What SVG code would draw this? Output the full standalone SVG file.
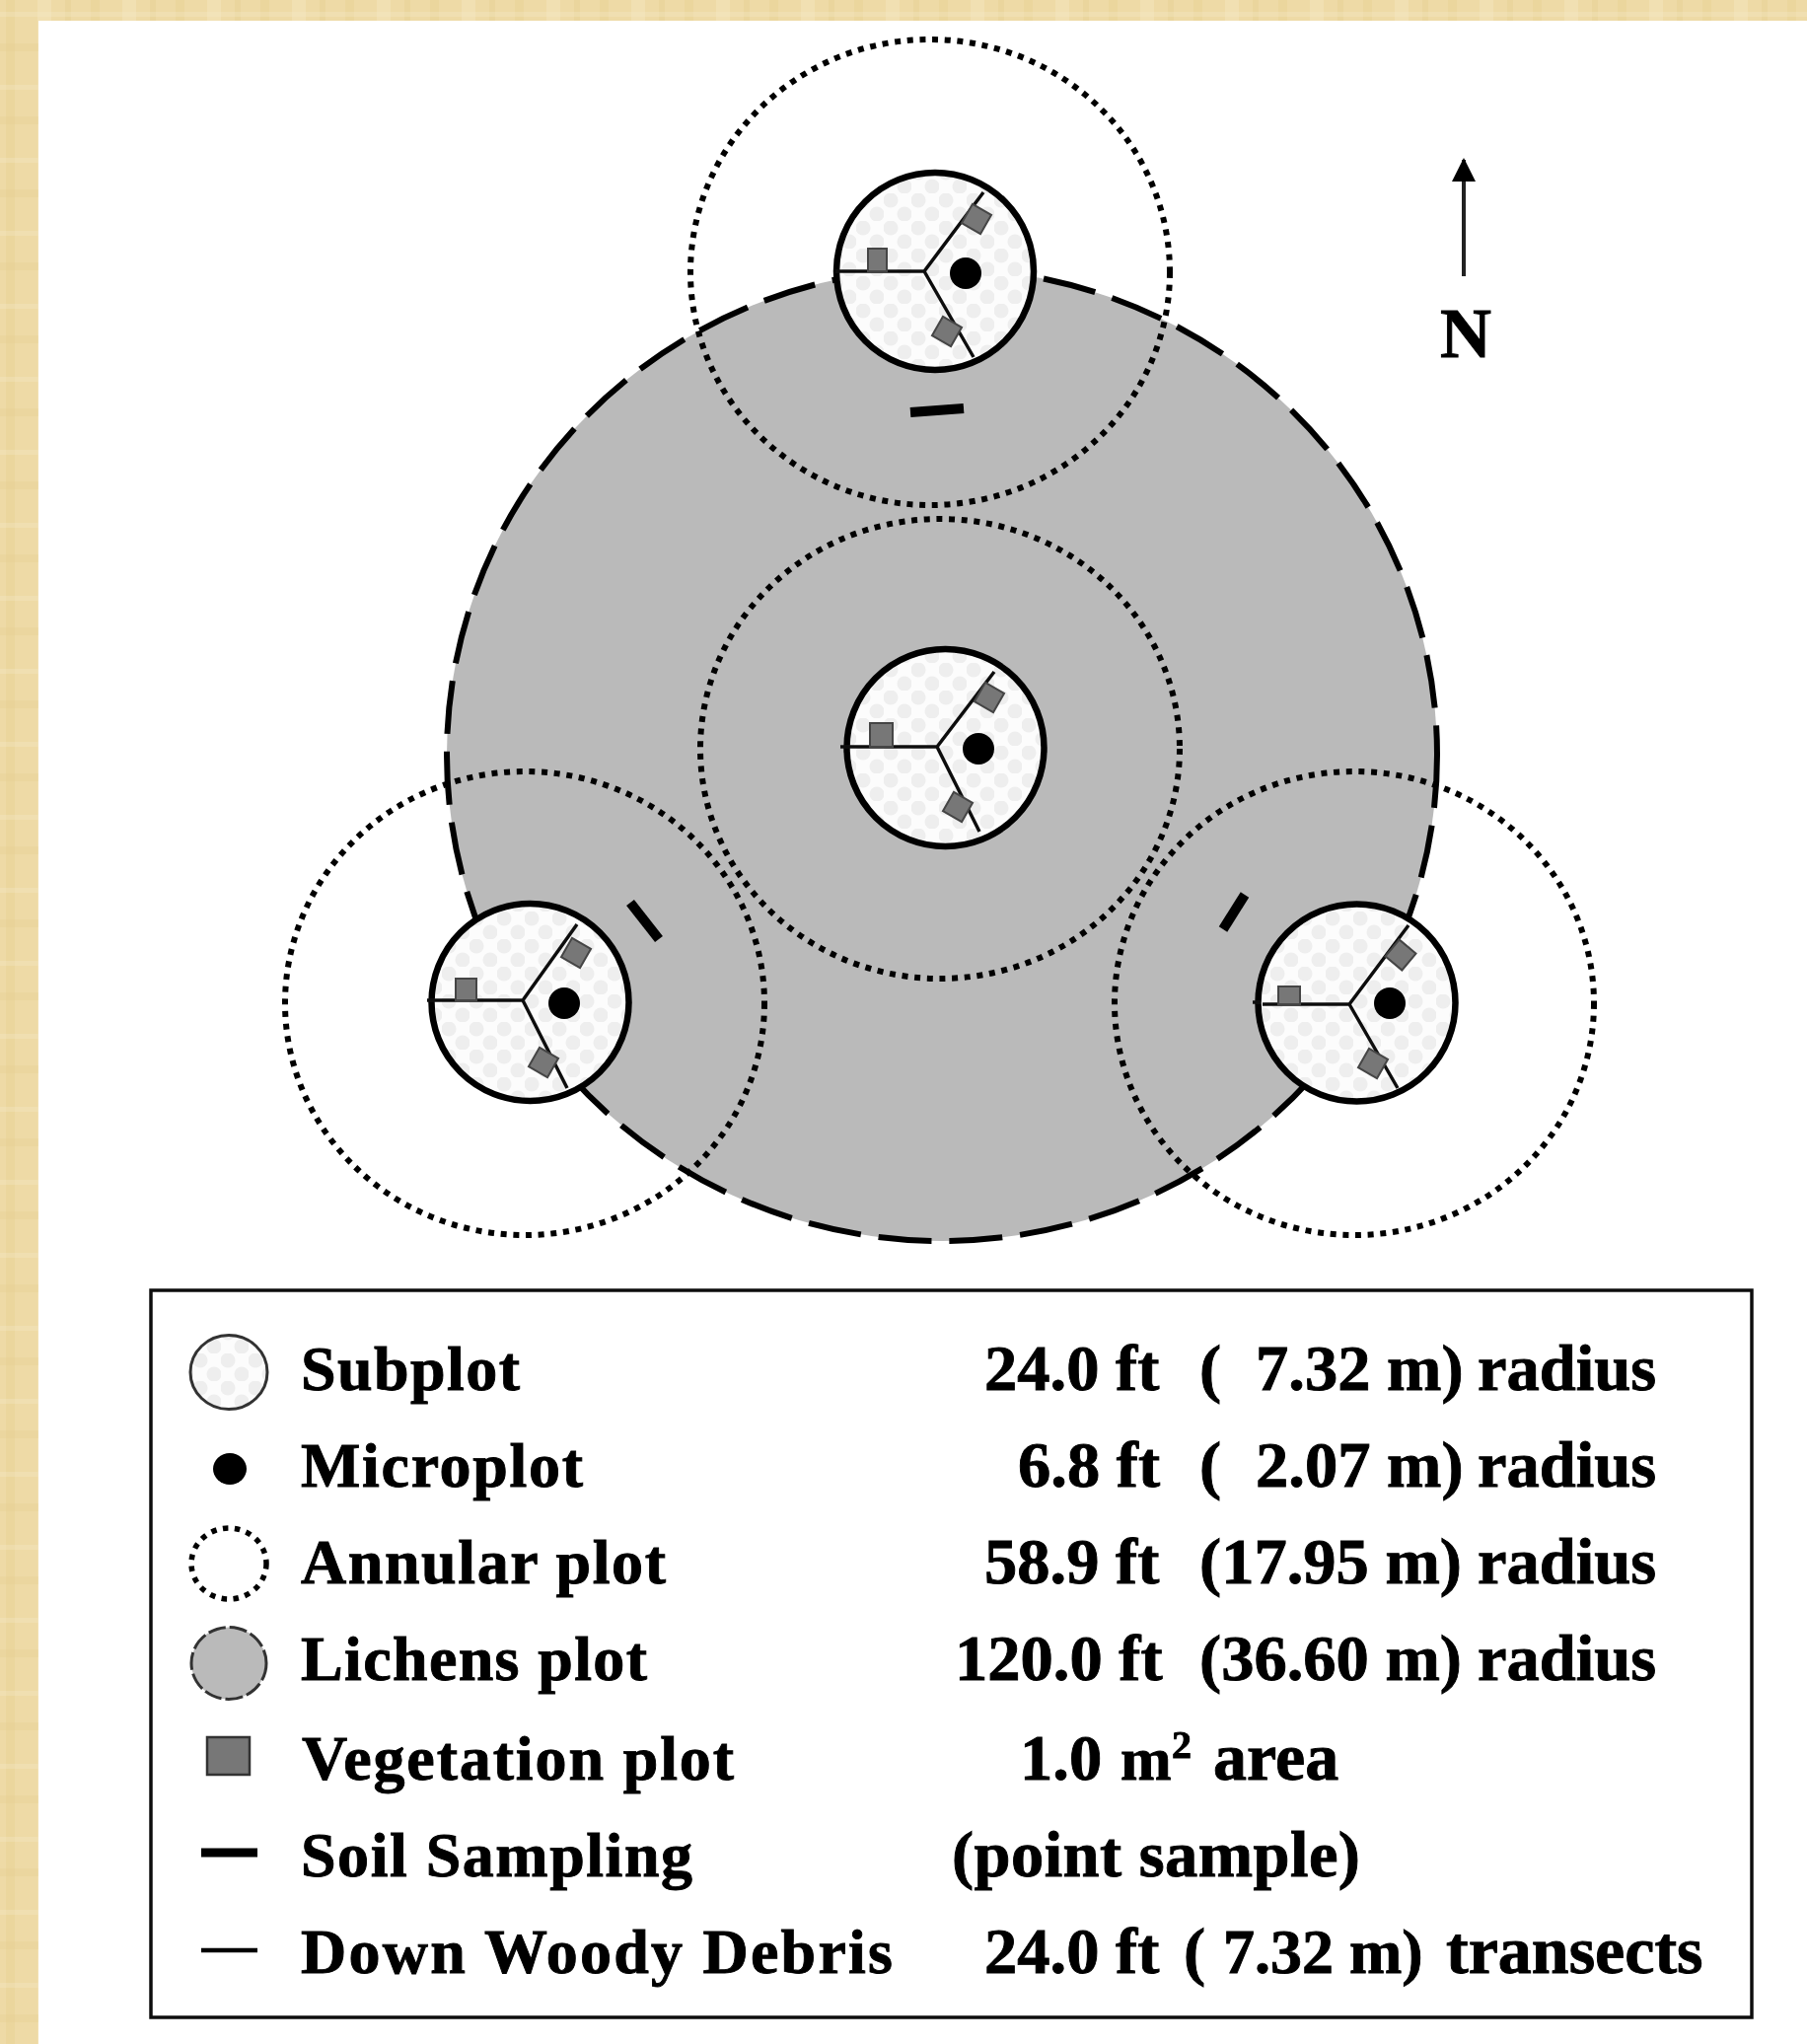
<svg xmlns="http://www.w3.org/2000/svg" width="1832" height="2072" viewBox="0 0 1832 2072">
<style>
text{font-family:"Liberation Serif","Times New Roman",serif;font-weight:bold;fill:#000;stroke:#000;stroke-width:.9px}
.lab{font-size:64px}
.val{font-size:66.500px}
.ann{fill:none;stroke:#000;stroke-width:6;stroke-dasharray:6 6.700}
.sub{fill:url(#dots);stroke:#000;stroke-width:6.500}
.sp{fill:none;stroke:#111;stroke-width:3.500}
.veg{fill:#777;stroke:#444;stroke-width:2}
.mic{fill:#000}
.soil{stroke:#000;stroke-width:10;fill:none}
</style>
<defs>
<pattern id="dots" width="28" height="28" patternUnits="userSpaceOnUse">
<rect width="28" height="28" fill="#fcfcfc"/>
<circle cx="7" cy="7" r="7.500" fill="#eeeeee"/>
<circle cx="21" cy="21" r="7.500" fill="#eeeeee"/>
</pattern>
<pattern id="paper" width="86" height="74" patternUnits="userSpaceOnUse">
<rect width="86" height="74" fill="#eedaa6"/>
<rect x="6" width="9" height="74" fill="#e6cf8f" opacity=".4"/>
<rect x="38" width="14" height="74" fill="#f6e8c2" opacity=".4"/>
<rect x="66" width="6" height="74" fill="#e3ca88" opacity=".3"/>
<rect y="12" width="86" height="5" fill="#f7ebca" opacity=".3"/>
<rect y="44" width="86" height="8" fill="#e4cc8c" opacity=".25"/>
</pattern>
<marker id="ah" markerUnits="userSpaceOnUse" markerWidth="24" markerHeight="26" refX="22" refY="12" orient="auto">
<path d="M0 0L24 12L0 24Z" fill="#000"/>
</marker>
<filter id="soft" x="-2%" y="-2%" width="104%" height="104%"><feGaussianBlur stdDeviation="0.6"/></filter>
</defs>
<g id="frame">
<rect width="1832" height="2072" fill="url(#paper)"/>
<rect x="39" y="21" width="1793" height="2051" fill="#fff"/>
</g>
<g filter="url(#soft)">
<g id="lichens-plot">
<ellipse cx="955" cy="765" rx="502" ry="493" fill="#bababa" stroke="#000" stroke-width="6" stroke-dasharray="54 18"/>
</g>
<g id="soil-samples">
<path class="soil" d="M923 418L977 414"/>
<path class="soil" d="M639 915L668 952"/>
<path class="soil" d="M1262 907L1240 942"/>
</g>
<g id="annular-plots">
<ellipse id="annular-north" class="ann" cx="943" cy="276" rx="243" ry="236"/>
<ellipse id="annular-center" class="ann" cx="953" cy="759" rx="243" ry="233"/>
<ellipse id="annular-west" class="ann" cx="532" cy="1017" rx="243" ry="235"/>
<ellipse id="annular-east" class="ann" cx="1373" cy="1017" rx="243" ry="235"/>
</g>
<g id="subplot-north">
<circle class="sub" cx="948" cy="275" r="100"/>
<path class="sp" d="M847 275H937L997 195M937 275L987 362"/>
<rect class="veg" x="880" y="252" width="19" height="23"/>
<rect class="veg" x="979" y="211" width="22" height="22" transform="rotate(30 990 222)"/>
<rect class="veg" x="949" y="325" width="22" height="22" transform="rotate(30 960 336)"/>
<circle class="mic" cx="979" cy="277" r="16"/>
</g>
<g id="subplot-center">
<circle class="sub" cx="958.500" cy="758" r="100"/>
<path class="sp" d="M852 757H950L1008 681M950 757L993 843"/>
<rect class="veg" x="882" y="733" width="23" height="24"/>
<rect class="veg" x="992" y="696" width="22" height="22" transform="rotate(30 1003 707)"/>
<rect class="veg" x="960" y="807" width="22" height="22" transform="rotate(30 971 818)"/>
<circle class="mic" cx="992" cy="759" r="16"/>
</g>
<g id="subplot-west">
<circle class="sub" cx="537.500" cy="1016" r="100"/>
<path class="sp" d="M433 1014H530L585 937M530 1014L575 1103"/>
<rect class="veg" x="462" y="992" width="21" height="22"/>
<rect class="veg" x="573" y="955" width="22" height="22" transform="rotate(30 584 966)"/>
<rect class="veg" x="540" y="1066" width="22" height="22" transform="rotate(30 551 1077)"/>
<circle class="mic" cx="572" cy="1017" r="16"/>
</g>
<g id="subplot-east">
<circle class="sub" cx="1375.500" cy="1016.500" r="100"/>
<path class="sp" d="M1280 1018H1368L1428 938M1368 1018L1417 1103M1270 1016H1278"/>
<rect class="veg" x="1296" y="1000" width="22" height="18"/>
<rect class="veg" x="1409" y="957" width="22" height="22" transform="rotate(40 1420 968)"/>
<rect class="veg" x="1381" y="1067" width="22" height="22" transform="rotate(30 1392 1078)"/>
<circle class="mic" cx="1409" cy="1017" r="16"/>
</g>
<g id="north-arrow">
<line x1="1484" y1="280" x2="1484" y2="162" stroke="#222" stroke-width="4" marker-end="url(#ah)"/>
<text x="1486" y="362" font-size="72" text-anchor="middle">N</text>
</g>
<g id="legend">
<rect x="153" y="1308" width="1623" height="737" fill="#fff" stroke="#111" stroke-width="3.500"/>
<g id="legend-subplot">
<ellipse cx="232" cy="1391" rx="39" ry="37.500" fill="url(#dots)" stroke="#333" stroke-width="3"/>
<text class="lab" x="305" y="1409" textLength="222">Subplot</text>
<text class="val" y="1409"><tspan x="998">24.0 ft</tspan> <tspan x="1216">(</tspan> <tspan x="1273">7.32 m)</tspan> <tspan x="1498">radius</tspan></text>
</g>
<g id="legend-microplot">
<ellipse cx="233" cy="1489" rx="17" ry="16" fill="#000"/>
<text class="lab" x="305" y="1507" textLength="286">Microplot</text>
<text class="val" y="1507"><tspan x="1032">6.8 ft</tspan> <tspan x="1216">(</tspan> <tspan x="1273">2.07 m)</tspan> <tspan x="1498">radius</tspan></text>
</g>
<g id="legend-annular">
<ellipse cx="232" cy="1585" rx="38" ry="36" fill="none" stroke="#000" stroke-width="5.500" stroke-dasharray="5.500 6.500"/>
<text class="lab" x="305" y="1605" textLength="370">Annular plot</text>
<text class="val" y="1605"><tspan x="998">58.9 ft</tspan> <tspan x="1216">(17.95 m)</tspan> <tspan x="1498">radius</tspan></text>
</g>
<g id="legend-lichens">
<ellipse cx="232" cy="1686" rx="38" ry="36.500" fill="#bababa" stroke="#333" stroke-width="3" stroke-dasharray="18 4"/>
<text class="lab" x="305" y="1703" textLength="351">Lichens plot</text>
<text class="val" y="1703"><tspan x="968">120.0 ft</tspan> <tspan x="1216">(36.60 m)</tspan> <tspan x="1498">radius</tspan></text>
</g>
<g id="legend-vegetation">
<rect x="210" y="1761" width="43" height="38" fill="#777" stroke="#333" stroke-width="2.500"/>
<text class="lab" x="306" y="1804" textLength="438">Vegetation plot</text>
<text class="val" y="1804"><tspan x="1034">1.0</tspan> <tspan x="1136" font-size="62">m</tspan><tspan x="1188" y="1782" font-size="40">2</tspan> <tspan x="1230" y="1804" font-size="68">area</tspan></text>
</g>
<g id="legend-soil">
<line x1="204" y1="1878" x2="261" y2="1878" stroke="#000" stroke-width="9"/>
<text class="lab" x="305" y="1902" textLength="397">Soil Sampling</text>
<text class="val" x="965" y="1902" textLength="414">(point sample)</text>
</g>
<g id="legend-debris">
<line x1="204" y1="1977" x2="261" y2="1977" stroke="#000" stroke-width="4.500"/>
<text class="lab" x="305" y="2000" textLength="600">Down Woody Debris</text>
<text class="val" y="2000"><tspan x="998">24.0 ft</tspan> <tspan x="1200">(</tspan> <tspan x="1240" font-size="64">7.32 m)</tspan> <tspan x="1466" font-size="68">transects</tspan></text>
</g>
</g>
</g>
</svg>
